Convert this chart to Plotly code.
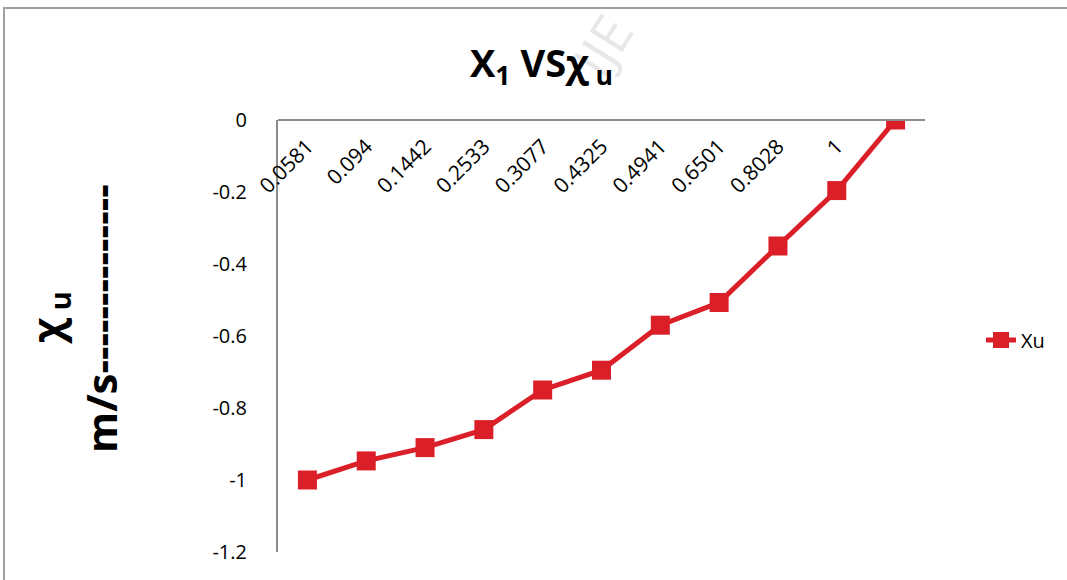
import plotly.graph_objects as go

# X1 category labels (the last point carries no label)
categories = ["0.0581", "0.094", "0.1442", "0.2533", "0.3077", "0.4325",
              "0.4941", "0.6501", "0.8028", "1", ""]
xu_values = [-1.0, -0.947, -0.91, -0.86, -0.75, -0.695, -0.57, -0.507, -0.35, -0.196, 0.0]
y_ticks = [0, -0.2, -0.4, -0.6, -0.8, -1, -1.2]

RED = "#DA1F28"
FONT = "Open Sans, Liberation Sans, sans-serif"

W, H = 1067, 580
L, R, T, B = 278, 142, 120, 28
pw, ph = W - L - R, H - T - B

def px_x(p):
    return (p - L) / pw

def px_y(p):
    return (H - B - p) / ph

idx = list(range(len(categories)))

fig = go.Figure()
fig.add_trace(go.Scatter(
    x=idx, y=xu_values, mode="lines+markers", name="Xu",
    line=dict(color=RED, width=5),
    marker=dict(symbol="square", size=19, color=RED),
))

fig.update_layout(
    width=W, height=H,
    margin=dict(l=L, r=R, t=T, b=B),
    paper_bgcolor="white", plot_bgcolor="white",
    font=dict(family=FONT, size=20, color="black"),
    showlegend=True,
    legend=dict(x=px_x(981), y=px_y(340), xanchor="left", yanchor="middle",
                font=dict(size=20), bgcolor="rgba(0,0,0,0)"),
    xaxis=dict(
        range=[-0.5, len(categories) - 0.5],
        tickmode="array", tickvals=idx, ticktext=categories,
        tickangle=-45, ticks="", showgrid=False, zeroline=False,
        showline=True, linecolor="#8c8c8c", linewidth=2,
        anchor="free", position=1, side="bottom",
        ticklabelstandoff=5,
        tickfont=dict(size=21),
    ),
    yaxis=dict(
        range=[-1.2, 0], tickmode="array", tickvals=y_ticks,
        ticktext=[("%g" % v) for v in y_ticks],
        showgrid=False, zeroline=False, ticks="",
        showline=True, linecolor="#8c8c8c", linewidth=2,
        ticklabelstandoff=25,
        tickfont=dict(size=20),
    ),
)

# faint publisher watermark
fig.add_annotation(
    text="IJE", xref="paper", yref="paper", x=px_x(602), y=px_y(45),
    showarrow=False, textangle=-58, font=dict(size=54, family=FONT, color="#e8e8e8"),
    xanchor="center", yanchor="middle",
)

# chart title
fig.add_annotation(
    text="<b>X<sub>1</sub> VSχ<sub> u</sub></b>",
    xref="paper", yref="paper", x=px_x(541), y=px_y(64),
    showarrow=False, font=dict(size=38, family=FONT),
    xanchor="center", yanchor="middle",
)

# vertical axis title, two rotated lines
fig.add_annotation(
    text="<b>χ<sub> u</sub></b>",
    xref="paper", yref="paper", x=px_x(48), y=px_y(318),
    showarrow=False, textangle=-90, font=dict(size=42, family=FONT),
    xanchor="center", yanchor="middle",
)
fig.add_annotation(
    text="<b>m/s--------------</b>",
    xref="paper", yref="paper", x=px_x(100), y=px_y(319),
    showarrow=False, textangle=-90, font=dict(size=42, family=FONT),
    xanchor="center", yanchor="middle",
)

# outer chart border
fig.add_shape(
    type="rect", xref="paper", yref="paper",
    x0=px_x(4), y0=px_y(8), x1=px_x(1100), y1=px_y(620),
    line=dict(color="#a0a0a0", width=2), fillcolor="rgba(0,0,0,0)", layer="below",
)

fig.write_html("out.html")
